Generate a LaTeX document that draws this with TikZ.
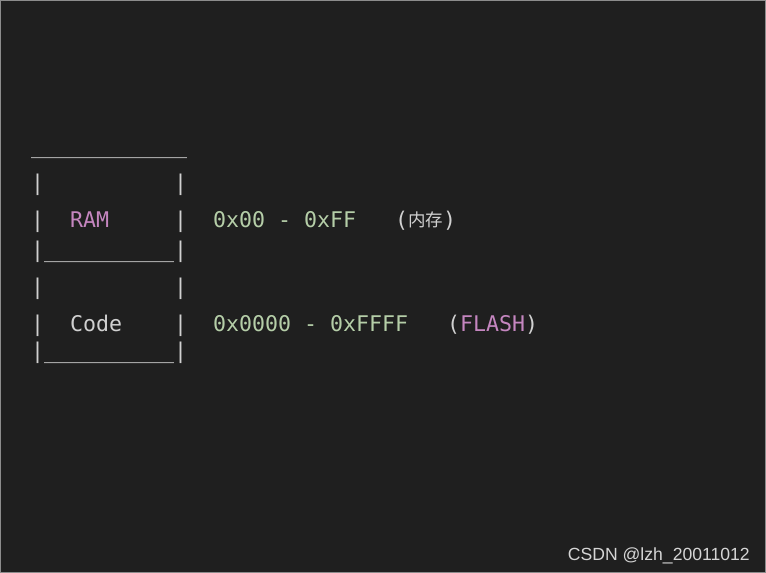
\documentclass[tikz,border=0pt]{standalone}
\usepackage{fontspec}
\setmonofont{DejaVu Sans Mono}
\setsansfont{Liberation Sans}
\newfontfamily\cjkfont{Noto Sans CJK SC}
\usepackage{xcolor}
\usetikzlibrary{positioning}

\definecolor{termbg}{HTML}{1F1F1F}
\definecolor{termfg}{HTML}{D0D0D0}
\definecolor{termnum}{HTML}{B5CEA8}
\definecolor{termkey}{HTML}{C586C0}
\definecolor{termframe}{HTML}{8C8C8C}

\tikzset{
  ascii/.style={font=\ttfamily\fontsize{21.6}{26}\selectfont, text=termfg,
    anchor=base west, inner sep=0pt},
  num/.style={ascii, text=termnum},
  key/.style={ascii, text=termkey},
  watermk/.style={font=\sffamily\fontsize{17.6}{20}\selectfont, text=termfg!90,
    anchor=base east, inner sep=0pt}
}

\begin{document}
\begin{tikzpicture}[x=1pt, y=-1pt]

  % Terminal window
  \useasboundingbox (0,0) rectangle (766,573);
  \draw[fill=termbg, draw=termframe, line width=1.2pt] (0.6,0.6) rectangle (765.4,572.4);

  % Box outline (one column = 13pt, first column at x=31)
  \node[ascii] (topline) at (31,153) {\_\_\_\_\_\_\_\_\_\_\_\_};
  \foreach \n/\y in {ram/190, code/294}{
    \node[ascii] (lbar-\n) at (31,\y) {|};
    \node[ascii] (rbar-\n) at (174,\y) {|};
  }
  \foreach \n/\y in {ram/257, code/358}{
    \node[ascii] (base-\n) at (31,\y) {|\_\_\_\_\_\_\_\_\_\_|};
  }

  % RAM row
  \node[ascii] (lbar-ramtxt) at (31,227) {|};
  \node[key]   (ram)         at (70,227) {RAM};
  \node[ascii] (rbar-ramtxt) at (174,227) {|};
  \node[num]   (ramrange)    at (213,227) {0x00 - 0xFF};
  \node[ascii] (ramnote)     at (395,227) {(\raisebox{0.5pt}{\cjkfont\fontsize{17.5}{20}\selectfont 内存})};

  % Code row
  \node[ascii] (lbar-codetxt) at (31,331) {|};
  \node[ascii] (code)         at (70,331) {Code};
  \node[ascii] (rbar-codetxt) at (174,331) {|};
  \node[num]   (coderange)    at (213,331) {0x0000 - 0xFFFF};
  \node[ascii] (codenote)     at (447,331) {(\textcolor{termkey}{FLASH})};

  % Watermark
  \node[watermk] (watermark) at (750,560) {CSDN @lzh\_20011012};

\end{tikzpicture}
\end{document}
